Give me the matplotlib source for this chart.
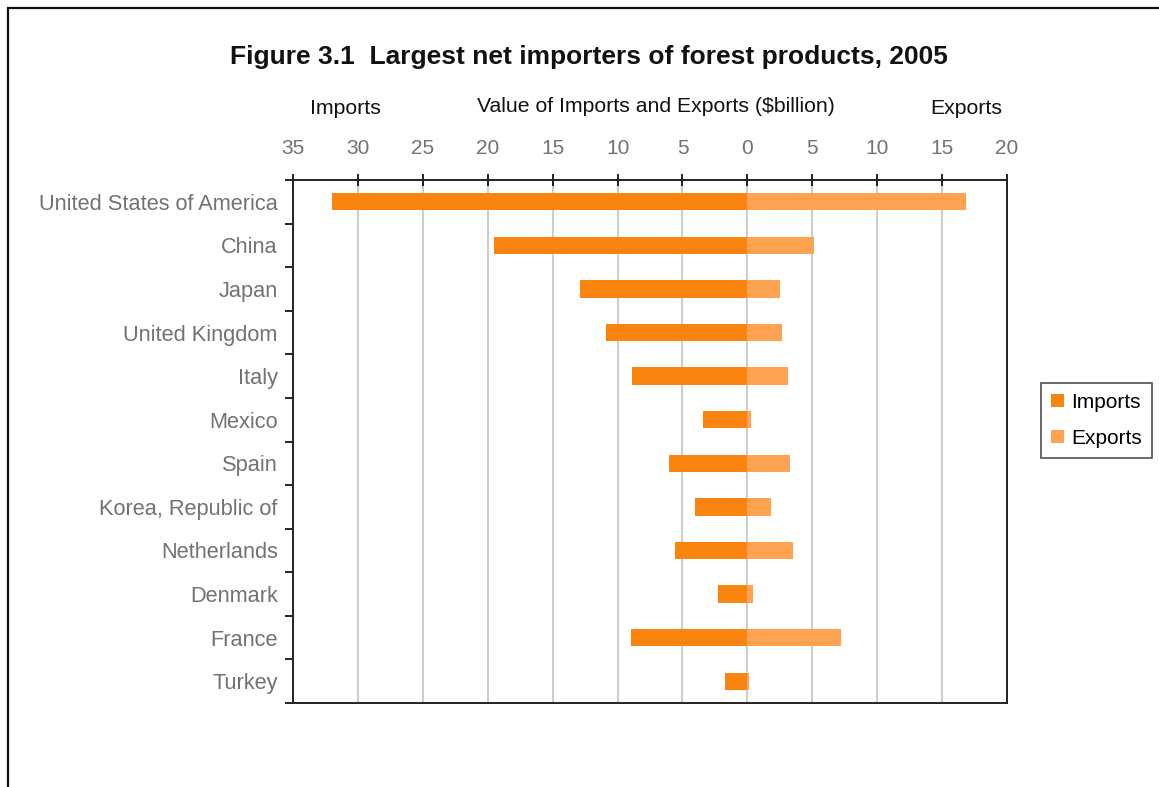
import matplotlib

matplotlib.use('Agg')
import matplotlib.pyplot as plt
from matplotlib.patches import Patch, Rectangle
import numpy as np

plt.rcParams['font.family'] = ['Liberation Sans', 'DejaVu Sans']

# -----------------------------
# Data ($billion, 2005)
# -----------------------------
countries = ["United States of America", "China", "Japan", "United Kingdom", "Italy",
             "Mexico", "Spain", "Korea, Republic of", "Netherlands", "Denmark",
             "France", "Turkey"]
imports = [32.0, 19.5, 12.9, 10.9, 8.9, 3.4, 6.0, 4.0, 5.6, 2.3, 9.0, 1.7]
exports = [16.8, 5.1, 2.5, 2.7, 3.1, 0.25, 3.3, 1.8, 3.5, 0.4, 7.2, 0.1]
tick_vals = [-35, -30, -25, -20, -15, -10, -5, 0, 5, 10, 15, 20]

IMP_COLOR = '#F98410'
EXP_COLOR = '#FFA352'
LABEL_GRAY = '#727272'

fig = plt.figure(figsize=(11.59, 7.87), dpi=100)
ax = fig.add_axes([0.2528, 0.1067, 0.6161, 0.6646])

y = np.arange(len(countries))
ax.barh(y, [-v for v in imports], height=0.4, color=IMP_COLOR, zorder=3)
ax.barh(y, exports, height=0.4, color=EXP_COLOR, zorder=3)

ax.set_xlim(-35, 20)
ax.set_ylim(len(countries) - 0.5, -0.5)

# x-oy: tepada
ax.set_xticks(tick_vals)
ax.set_xticklabels([str(abs(v)) for v in tick_vals])
ax.xaxis.tick_top()
ax.tick_params(axis='x', which='major', direction='inout', length=9, width=1.2,
               labelsize=15, labelcolor=LABEL_GRAY, pad=11)
ax.grid(axis='x', color='#c4c4c4', linewidth=1.2, zorder=0)

# y-oy: kategoriyalar
ax.set_yticks(y)
ax.set_yticklabels(countries)
ax.set_yticks(np.arange(len(countries) + 1) - 0.5, minor=True)
ax.tick_params(axis='y', which='major', length=0, labelsize=15.7, labelcolor=LABEL_GRAY, pad=11)
ax.tick_params(axis='y', which='minor', direction='out', length=6, width=1.2)

for s in ax.spines.values():
    s.set_linewidth(1.4)
    s.set_color('#222222')

# Sarlavhalar
fig.text(0.508, 0.928, "Figure 3.1  Largest net importers of forest products, 2005",
         ha='center', va='center', fontsize=19, fontweight='bold', color='#111111')
fig.text(0.298, 0.862, "Imports", ha='center', va='center', fontsize=15.3, color='#111111')
fig.text(0.566, 0.865, "Value of Imports and Exports ($billion)", ha='center', va='center',
         fontsize=15.3, color='#111111')
fig.text(0.834, 0.862, "Exports", ha='center', va='center', fontsize=15.3, color='#111111')

# Legend
handles = [Patch(facecolor=IMP_COLOR, label='Imports'),
           Patch(facecolor=EXP_COLOR, label='Exports')]
leg = fig.legend(handles=handles, loc='center', bbox_to_anchor=(0.946, 0.466),
                 fontsize=15, frameon=True, fancybox=False, handlelength=0.6,
                 handleheight=0.6, handletextpad=0.35, borderpad=0.5, labelspacing=0.8)
leg.get_frame().set_edgecolor('#222222')
leg.get_frame().set_linewidth(1.2)

# Rasm ramkasi (chap va tepa)
fig.patches.append(Rectangle((8 / 1159, -0.1), 1.2, 1.1 - 8 / 787, transform=fig.transFigure,
                             fill=False, edgecolor='#111111', linewidth=1.6))

fig.savefig('out.png', dpi=100)
